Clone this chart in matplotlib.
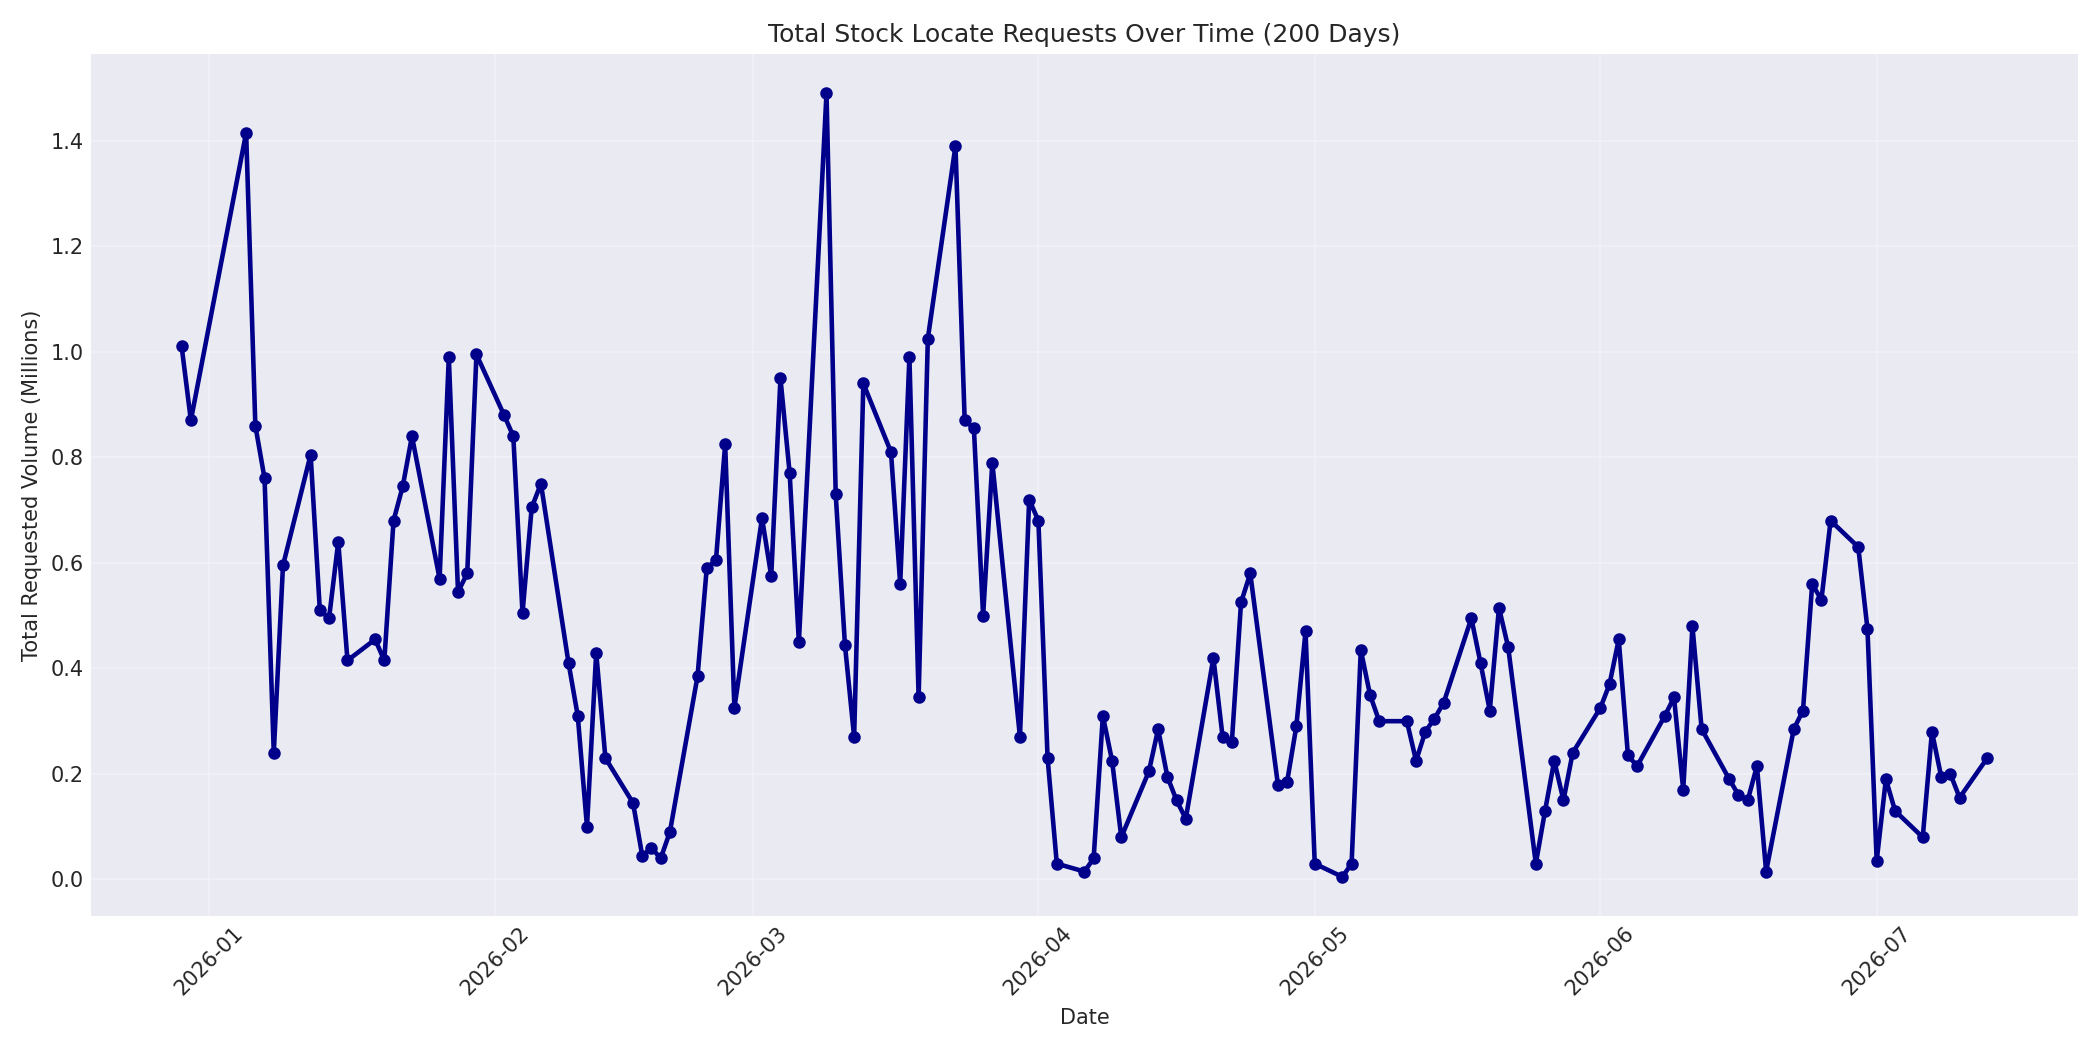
import matplotlib
matplotlib.use("Agg")
import matplotlib.pyplot as plt
import pandas as pd

# business days, Dec 29 2025 - Jul 13 2026, no trading Dec 31 - Jan 2
Dates = pd.bdate_range("2025-12-29", "2026-07-13")
Dates = Dates[~Dates.isin(pd.to_datetime(["2025-12-31", "2026-01-01", "2026-01-02"]))]

Volumes = [
    1.01, 0.87,
    1.415, 0.86, 0.76, 0.24, 0.595,
    0.805, 0.51, 0.495, 0.64, 0.415,
    0.455, 0.415, 0.68, 0.745, 0.84,
    0.57, 0.99, 0.545, 0.58, 0.995,
    0.88, 0.84, 0.505, 0.705, 0.75,
    0.41, 0.31, 0.10, 0.43, 0.23,
    0.145, 0.045, 0.06, 0.04, 0.09,
    0.385, 0.59, 0.605, 0.825, 0.325,
    0.685, 0.575, 0.95, 0.77, 0.45,
    1.49, 0.73, 0.445, 0.27, 0.94,
    0.81, 0.56, 0.99, 0.345, 1.025,
    1.39, 0.87, 0.855, 0.50, 0.79,
    0.27, 0.72, 0.68, 0.23, 0.03,
    0.015, 0.04, 0.31, 0.225, 0.08,
    0.205, 0.285, 0.195, 0.15, 0.115,
    0.42, 0.27, 0.26, 0.525, 0.58,
    0.18, 0.185, 0.29, 0.47, 0.03,
    0.005, 0.03, 0.435, 0.35, 0.30,
    0.30, 0.225, 0.28, 0.305, 0.335,
    0.495, 0.41, 0.32, 0.515, 0.44,
    0.03, 0.13, 0.225, 0.15, 0.24,
    0.325, 0.37, 0.455, 0.235, 0.215,
    0.31, 0.345, 0.17, 0.48, 0.285,
    0.19, 0.16, 0.15, 0.215, 0.015,
    0.285, 0.32, 0.56, 0.53, 0.68,
    0.63, 0.475, 0.035, 0.19, 0.13,
    0.08, 0.28, 0.195, 0.2, 0.155,
    0.23,
]

plt.style.use("seaborn-v0_8-darkgrid")
plt.rcParams["font.family"] = ["DejaVu Sans"]
fig, ax = plt.subplots(figsize=(14, 7), dpi=150)
ax.plot(Dates, Volumes, color="darkblue", linewidth=2.2, marker="o", markersize=5)
ax.set_title("Total Stock Locate Requests Over Time (200 Days)", fontsize=12)
ax.set_xlabel("Date", fontsize=10)
ax.set_ylabel("Total Requested Volume (Millions)", fontsize=10)
ax.grid(True, alpha=0.3)
plt.xticks(rotation=45, fontsize=10)
plt.yticks(fontsize=10)
plt.tight_layout()
plt.savefig("out.png")
